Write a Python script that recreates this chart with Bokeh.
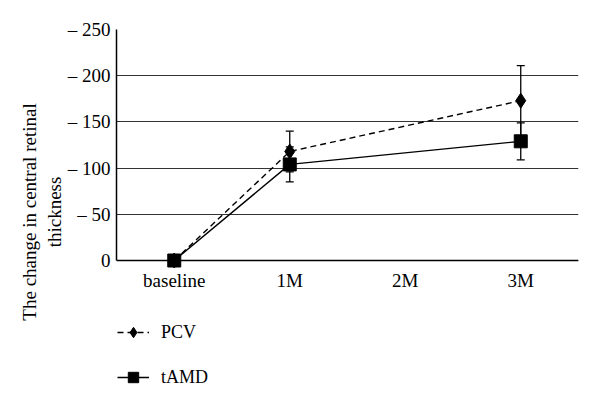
from bokeh.plotting import figure
from bokeh.models import (FactorRange, Range1d, Legend, LegendItem, Whisker, TeeHead,
                          ColumnDataSource, FixedTicker)
from bokeh.embed import file_html
from bokeh.resources import INLINE

categories = ["baseline", "1M", "2M", "3M"]
pcv_x = ["baseline", "1M", "3M"]
pcv_y = [0, 118, 173]
pcv_err = [0, 22, 38]
tamd_x = ["baseline", "1M", "3M"]
tamd_y = [0, 104, 129]
tamd_err = [0, 19, 20]
y_ticks = [0, 50, 100, 150, 200, 250]
y_tick_labels = ["0", "\u2013 50", "\u2013 100", "\u2013 150", "\u2013 200", "\u2013 250"]

FONT = "Liberation Serif"

# frame extends below zero so the legend can sit inside it, under the x axis
p = figure(width=592, height=399, x_range=FactorRange(factors=categories, range_padding=0),
           y_range=Range1d(-145, 250), output_backend="svg", toolbar_location=None,
           min_border_left=116, min_border_right=14, min_border_top=29, min_border_bottom=5)
p.outline_line_color = None
p.xgrid.grid_line_color = None
p.ygrid.grid_line_color = "#333333"
p.ygrid.grid_line_width = 1.2
p.yaxis.ticker = FixedTicker(ticks=y_ticks)
p.yaxis.major_label_overrides = {t: l for t, l in zip(y_ticks, y_tick_labels)}
p.yaxis.bounds = (0, 250)
p.xaxis.fixed_location = 0
for ax in (p.xaxis, p.yaxis):
    ax.major_tick_line_color = None
    ax.minor_tick_line_color = None
    ax.axis_line_color = "black"
    ax.axis_line_width = 1.5
    ax.major_label_text_font = FONT
    ax.major_label_text_font_size = "19px"
    ax.major_label_text_color = "black"
p.yaxis.major_label_standoff = 0
p.xaxis.major_label_standoff = 3
p.yaxis.axis_label = "The change in central retinal\nthickness"
p.yaxis.axis_label_text_font = FONT
p.yaxis.axis_label_text_font_style = "normal"
p.yaxis.axis_label_text_font_size = "19px"
p.yaxis.axis_label_text_color = "black"
p.yaxis.axis_label_standoff = 0

src_p = ColumnDataSource(dict(x=pcv_x, y=pcv_y, lo=[a - b for a, b in zip(pcv_y, pcv_err)],
                              hi=[a + b for a, b in zip(pcv_y, pcv_err)]))
src_t = ColumnDataSource(dict(x=tamd_x, y=tamd_y, lo=[a - b for a, b in zip(tamd_y, tamd_err)],
                              hi=[a + b for a, b in zip(tamd_y, tamd_err)]))

for src in (src_p, src_t):
    w = Whisker(source=src, base="x", upper="hi", lower="lo", line_color="black", line_width=1.3,
                upper_head=TeeHead(size=8, line_color="black", line_width=1.3),
                lower_head=TeeHead(size=8, line_color="black", line_width=1.3))
    p.add_layout(w)

lp = p.line("x", "y", source=src_p, line_color="black", line_width=1.4, line_dash="6 4")
mp = p.scatter("x", "y", source=src_p, marker="diamond", size=15,
               fill_color="black", line_color="black")
lt = p.line("x", "y", source=src_t, line_color="black", line_width=1.4)
mt = p.scatter("x", "y", source=src_t, marker="square", size=13, fill_color="black", line_color="black")

legend = Legend(items=[LegendItem(label="PCV", renderers=[lp, mp]),
                       LegendItem(label="tAMD", renderers=[lt, mt])],
                location=(1, 4), orientation="vertical", glyph_width=32, glyph_height=26,
                spacing=19, padding=0, margin=0, label_standoff=12, border_line_color=None,
                background_fill_alpha=0, label_text_font=FONT, label_text_font_size="18px",
                label_text_color="black")
p.add_layout(legend, "center")

open("out.html", "w").write(file_html(p, INLINE))
